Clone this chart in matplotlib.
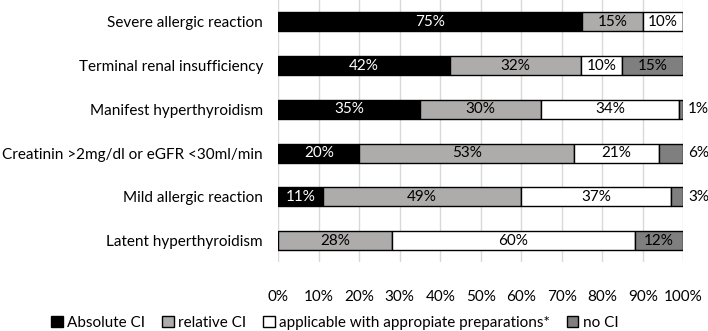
import matplotlib.pyplot as plt
import numpy as np

plt.rcParams['font.family'] = ['Lato', 'DejaVu Sans']

categories = ['Severe allergic reaction', 'Terminal renal insufficiency',
              'Manifest hyperthyroidism', 'Creatinin >2mg/dl or eGFR <30ml/min',
              'Mild allergic reaction', 'Latent hyperthyroidism']
absolute_ci = [75, 42, 35, 20, 11, 0]
relative_ci = [15, 32, 30, 53, 49, 28]
applicable = [10, 10, 34, 21, 37, 60]
no_ci = [0, 15, 1, 6, 3, 12]

series = [
    ('Absolute CI', absolute_ci, '#000000', 'white'),
    ('relative CI', relative_ci, '#aeabab', 'black'),
    ('applicable with appropiate preparations*', applicable, '#ffffff', 'black'),
    ('no CI', no_ci, '#7f7f7f', 'black'),
]

totals = np.sum([s[1] for s in series], axis=0)
y = np.arange(len(categories))

fig = plt.figure(figsize=(7.08, 3.31), dpi=100)
ax = fig.add_axes([0.393, 0.207, 0.572, 0.793])

FS = 11
left = np.zeros(len(categories))
for name, vals, color, tcolor in series:
    vals = np.array(vals, dtype=float)
    share = vals / totals
    ax.barh(y, share, left=left, height=0.43, color=color, edgecolor='black',
            linewidth=1.0, label=name, zorder=3)
    for i, v in enumerate(vals):
        if v == 0:
            continue
        if v < 8 and name == 'no CI':
            ax.text(1.012, y[i], f'{int(v)}%', ha='left', va='center',
                    fontsize=FS, color='black')
        else:
            ax.text(left[i] + share[i] / 2, y[i], f'{int(v)}%', ha='center',
                    va='center', fontsize=FS, color=tcolor, zorder=4)
    left += share

ax.set_ylim(5.5, -0.5)
ax.set_xlim(0, 1)
ax.set_yticks(y)
ax.set_yticklabels(categories, fontsize=FS)
ax.set_xticks(np.arange(0, 1.01, 0.1))
ax.set_xticklabels([f'{int(t)}%' for t in np.arange(0, 101, 10)], fontsize=FS)
ax.tick_params(axis='y', length=0, pad=11)
ax.tick_params(axis='x', length=0, pad=20)
ax.grid(axis='x', color='#d9d9d9', linewidth=1, zorder=0)
for s in ax.spines.values():
    s.set_visible(False)

fig.legend(loc='center', bbox_to_anchor=(0.473, 0.025), ncol=4, frameon=False,
           fontsize=FS, handlelength=0.75, handleheight=0.75, handletextpad=0.3,
           columnspacing=1.1, borderpad=0)

fig.savefig('out.png', dpi=100)
